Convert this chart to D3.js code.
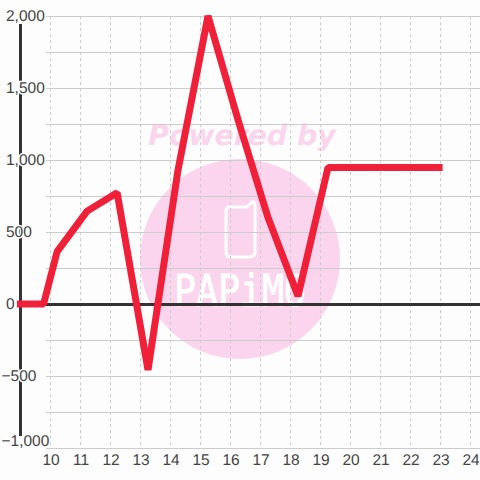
<!DOCTYPE html>
<html>
<head>
<meta charset="utf-8">
<script src="https://cdn.jsdelivr.net/npm/d3@7"></script>
<style>
  html, body { margin: 0; padding: 0; background: #fdfdfd; }
  text { font-family: "Liberation Sans", sans-serif; text-rendering: geometricPrecision; }
</style>
</head>
<body>
<div id="chart"></div>
<script>
// values
const hours = [8.88, 9.77, 10.22, 11.22, 12.22, 13.25, 14.25, 15.25, 16.25, 17.25, 18.25, 19.25, 20.25, 21.25, 22.25, 23.07];
const amounts = [0, 0, 364, 645, 773, -458, 930, 2000, 1280, 600, 55, 948, 948, 948, 948, 948];
const xTicks = [10, 11, 12, 13, 14, 15, 16, 17, 18, 19, 20, 21, 22, 23, 24];
const yTicks = [2000, 1500, 1000, 500, 0, -500, -1000];
const yGrid = [2000, 1750, 1500, 1250, 1000, 750, 500, 250, 0, -250, -500, -750, -1000];

const width = 480;
const height = 480;

const x_scale = d3.scaleLinear().domain([9, 24]).range([20.5, 470.5]);
const y_scale = d3.scaleLinear().domain([-1000, 2000]).range([448, 16]);

const svg = d3
  .select('#chart')
  .append('svg')
  .attr('width', width)
  .attr('height', height)
  .style('display', 'block');

// watermark
const mark = svg.append('g');
mark
  .append('circle')
  .attr('cx', 240)
  .attr('cy', 259)
  .attr('r', 100)
  .attr('fill', '#fbd5ee');
mark
  .append('text')
  .attr('x', 242)
  .attr('y', 145)
  .attr('text-anchor', 'middle')
  .attr('font-size', 28.3)
  .attr('font-weight', 'bold')
  .attr('font-style', 'italic')
  .style('font-family', 'DejaVu Sans')
  .attr('fill', '#fbd5ee')
  .text('Powered by');
mark
  .append('path')
  .attr('d', 'M229 207H247L252 202Q255 201 255 206V252Q255 257 249 257H231Q226 257 226 252V211Q226 207 229 207Z')
  .attr('fill', 'none')
  .attr('stroke', '#fff')
  .attr('stroke-width', 3);
mark
  .append('text')
  .attr('x', 174)
  .attr('y', 306)
  .attr('textLength', 132)
  .attr('lengthAdjust', 'spacingAndGlyphs')
  .attr('font-size', 44)
  .attr('stroke', '#fff')
  .attr('stroke-width', 0.8)
  .style('font-family', 'DejaVu Sans Mono')
  .attr('fill', '#fff')
  .text('PAPiMO');

// grid
const grid = svg.append('g');
grid
  .selectAll('line.h')
  .data(yGrid)
  .enter()
  .append('line')
  .attr('class', 'h')
  .attr('x1', 46)
  .attr('x2', width)
  .attr('y1', (d) => y_scale(d) + 0.5)
  .attr('y2', (d) => y_scale(d) + 0.5)
  .attr('stroke', '#ccc')
  .attr('stroke-width', 1);
grid
  .selectAll('line.v')
  .data(xTicks)
  .enter()
  .append('line')
  .attr('class', 'v')
  .attr('x1', (d) => x_scale(d))
  .attr('x2', (d) => x_scale(d))
  .attr('y1', y_scale(2000))
  .attr('y2', y_scale(-1000))
  .attr('stroke', '#ccc')
  .attr('stroke-dasharray', '3,3');

// y axis bar and zero line
svg
  .append('line')
  .attr('x1', 20.5)
  .attr('x2', 20.5)
  .attr('y1', 24)
  .attr('y2', 436)
  .attr('stroke', '#333')
  .attr('stroke-width', 3);
svg
  .append('line')
  .attr('x1', 18)
  .attr('x2', width)
  .attr('y1', y_scale(0) + 0.5)
  .attr('y2', y_scale(0) + 0.5)
  .attr('stroke', '#333')
  .attr('stroke-width', 3);

// tick labels, left aligned with the minus sign hanging out
const y_axis = d3.axisLeft(y_scale).tickValues(yTicks).tickSize(0).tickFormat(d3.format(','));
const yAxis = svg.append('g').call(y_axis);
yAxis.select('.domain').remove();
yAxis
  .selectAll('text')
  .attr('x', (d) => (d < 0 ? 1.5 : 6))
  .attr('y', (d) => (d === -1000 ? -7 : 0))
  .attr('text-anchor', 'start')
  .attr('font-size', 15.5)
  .attr('fill', '#444')
  .attr('stroke', '#fdfdfd')
  .attr('stroke-width', 3)
  .attr('paint-order', 'stroke')
  .style('font-family', 'Liberation Sans');

const x_axis = d3.axisBottom(x_scale).tickValues(xTicks).tickSize(0);
const xAxis = svg.append('g').attr('transform', 'translate(0,454)').call(x_axis);
xAxis.select('.domain').remove();
xAxis
  .selectAll('text')
  .attr('y', 0)
  .attr('dy', '0.71em')
  .attr('font-size', 15.5)
  .attr('fill', '#444')
  .style('font-family', 'Liberation Sans');

// series
const line = d3
  .line()
  .x((d, i) => x_scale(hours[i]))
  .y((d) => y_scale(d));
svg
  .append('path')
  .datum(amounts)
  .attr('d', line)
  .attr('fill', 'none')
  .attr('stroke', '#f12039')
  .attr('stroke-width', 7)
  .attr('stroke-linejoin', 'bevel');
</script>
</body>
</html>
